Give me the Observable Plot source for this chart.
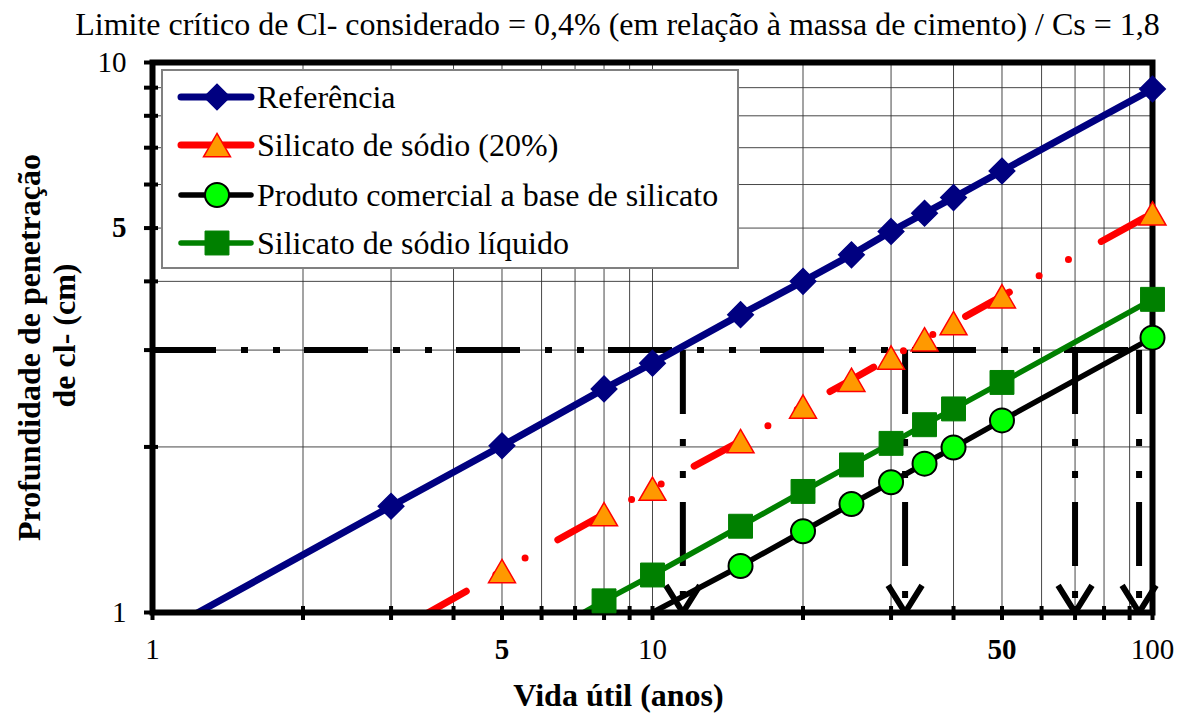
<!DOCTYPE html>
<html><head><meta charset="utf-8">
<script src="https://cdn.jsdelivr.net/npm/d3@7"></script>
<script src="https://cdn.jsdelivr.net/npm/@observablehq/plot@0.6"></script>
<style>
body{margin:0;background:#fff;}
#wrap{position:relative;width:1177px;height:715px;font-family:"Liberation Serif","Times New Roman",serif;}
#legend{position:absolute;left:161px;top:69px;width:574px;height:196px;border:2px solid #808080;background:#fff;}
.row{position:absolute;left:0;height:48px;width:570px;}
.row svg{position:absolute;left:12px;top:0;}
.row span{position:absolute;left:94px;top:0;line-height:48px;font-size:32px;color:#000;white-space:nowrap;}
</style></head><body><div id="wrap"></div>
<script>
// ---- data ----
const refX  = [1, 3, 5, 8, 10, 15, 20, 25, 30, 35, 40, 50, 100];
const refY  = [0.9, 1.56, 2.01, 2.55, 2.84, 3.48, 4.0, 4.47, 4.93, 5.32, 5.68, 6.35, 8.95];
const sil20X = [3.5, 5, 8, 10, 15, 20, 25, 30, 35, 40, 50, 100];
const sil20Y = [0.99, 1.19, 1.51, 1.68, 2.05, 2.37, 2.65, 2.91, 3.14, 3.36, 3.76, 5.32];
const comX  = [10, 15, 20, 25, 30, 35, 40, 50, 100];
const comY  = [1.0, 1.215, 1.405, 1.575, 1.725, 1.865, 1.995, 2.235, 3.16];
const liqX  = [7, 8, 10, 15, 20, 25, 30, 35, 40, 50, 100];
const liqY  = [0.98, 1.05, 1.17, 1.435, 1.66, 1.855, 2.03, 2.195, 2.345, 2.62, 3.71];
const limitY = 3;
const arrowX = [11.5, 32, 70, 94];
const seriesNames = ["Referência", "Silicato de sódio (20%)", "Produto comercial a base de silicato", "Silicato de sódio líquido"];
const xTickLabels = [1, 5, 10, 50, 100];
const xTickBold   = [false, true, false, true, false];
const yTickLabels = [1, 5, 10];
const yTickBold   = [false, true, false];
const minorX = [1,2,3,4,5,6,7,8,9,10,20,30,40,50,60,70,80,90,100];
const minorY = [1,2,3,4,5,6,7,8,9,10];
const title = "Limite crítico de Cl- considerado = 0,4% (em relação à massa de cimento) / Cs = 1,8";
const xLabel = "Vida útil (anos)";
const yLabel1 = "Profundidade de penetração";
const yLabel2 = "de cl- (cm)";

// ---- styles ----
const FONT = '"Liberation Serif","Times New Roman",serif';
const styles = [
  {line:"#000080", lw:7, symbol:"diamond2", r:11.5, fill:"#000080", mstroke:"#000080", msw:1.5, dy:0},
  {line:"#FF0000", lw:7, symbol:"triangle", r:10, fill:"#FF9900", mstroke:"#FF0000", msw:1.5, dy:4, dash:"50,34,0,33.5,0,37.5", dashOffset:2},
  {line:"#000000", lw:5.5, symbol:"circle", r:12, fill:"#00FF00", mstroke:"#000000", msw:2, dy:0},
  {line:"#008000", lw:5.5, symbol:"square", r:13.5, fill:"#008000", mstroke:"#008000", msw:1, dy:0}
];
const xs = [refX, sil20X, comX, liqX], ys = [refY, sil20Y, comY, liqY];
const series = xs.map((X, s) => X.map((x, i) => ({x, y: ys[s][i], s})));

const lineMarks = series.map((d, s) => Plot.line(d, {
  x: "x", y: "y", stroke: styles[s].line, strokeWidth: styles[s].lw,
  strokeLinecap: "round", strokeLinejoin: "round", clip: true,
  strokeDasharray: styles[s].dash, strokeDashoffset: styles[s].dashOffset
}));
const dotMarks = series.map((d, s) => Plot.dot(d.filter(p => p.y > 1), {
  x: "x", y: "y", symbol: styles[s].symbol, r: styles[s].r, fill: styles[s].fill,
  stroke: styles[s].mstroke, strokeWidth: styles[s].msw, dy: styles[s].dy
}));

const plot = Plot.plot({
  width: 1177, height: 715,
  marginLeft: 152, marginRight: 25, marginTop: 62, marginBottom: 103,
  x: {type: "log", domain: [1, 100], axis: null},
  y: {type: "log", domain: [1, 10], axis: null},
  style: {fontFamily: FONT, background: "white", color: "black", overflow: "visible"},
  marks: [
    Plot.gridX(minorX, {stroke: "#333", strokeOpacity: 0.9, strokeWidth: 1}),
    Plot.gridY(minorY, {stroke: "#333", strokeOpacity: 0.9, strokeWidth: 1}),
    Plot.ruleY([limitY], {x1: 1, x2: 100, stroke: "black", strokeWidth: 6, strokeDasharray: "64,25,7,25,7,24"}),
    Plot.arrow(arrowX, {x1: d => d, x2: d => d, y1: limitY, y2: 1, stroke: "black", strokeWidth: 6,
      strokeDasharray: "64,25,7,25,7,24", strokeLinecap: "butt", strokeLinejoin: "miter", strokeMiterlimit: 1,
      headLength: 8, headAngle: 64}),
    ...lineMarks,
    Plot.frame({stroke: "black", strokeWidth: 6}),
    Plot.ruleX(minorX, {x: d => d, insetTop: 544, insetBottom: -8, stroke: "black", strokeWidth: 4}),
    Plot.ruleY(minorY, {y: d => d, insetRight: 994, insetLeft: -8, stroke: "black", strokeWidth: 4}),
    ...dotMarks,
    Plot.text(xTickLabels.filter((d, i) => !xTickBold[i]), {x: d => d, y: 1, dy: 37, fontSize: 29, text: d => String(d)}),
    Plot.text(xTickLabels.filter((d, i) => xTickBold[i]), {x: d => d, y: 1, dy: 37, fontSize: 29, fontWeight: "bold", text: d => String(d)}),
    Plot.text(yTickLabels.filter((d, i) => !yTickBold[i]), {x: 1, y: d => d, dx: -26, textAnchor: "end", fontSize: 29, text: d => String(d)}),
    Plot.text(yTickLabels.filter((d, i) => yTickBold[i]), {x: 1, y: d => d, dx: -26, textAnchor: "end", fontSize: 29, fontWeight: "bold", text: d => String(d)}),
    Plot.text([title], {frameAnchor: "top", textAnchor: "middle", dx: -35, dy: -50, fontSize: 32, text: d => d}),
    Plot.text([xLabel], {frameAnchor: "bottom", textAnchor: "middle", dx: -34, dy: 93, fontSize: 32, fontWeight: "bold", text: d => d}),
    Plot.text([yLabel1], {frameAnchor: "left", textAnchor: "middle", dx: -123, dy: 10, rotate: -90, fontSize: 32, fontWeight: "bold", text: d => d}),
    Plot.text([yLabel2], {frameAnchor: "left", textAnchor: "middle", dx: -88, dy: -2, rotate: -90, fontSize: 32, fontWeight: "bold", text: d => d})
  ]
});

const wrap = document.getElementById("wrap");
wrap.appendChild(plot);

// ---- legend (HTML overlay inside plot area) ----
const legend = document.createElement("div");
legend.id = "legend";
const symTypes = {diamond2: d3.symbolDiamond2, triangle: d3.symbolTriangle, circle: d3.symbolCircle, square: d3.symbolSquare};
const rowCenters = [26, 74, 124, 172];
seriesNames.forEach((name, s) => {
  const st = styles[s];
  const row = document.createElement("div");
  row.className = "row";
  row.style.top = (rowCenters[s] - 24) + "px";
  const path = d3.symbol(symTypes[st.symbol], Math.PI * st.r * st.r)();
  row.innerHTML = `<svg width="82" height="48" viewBox="0 0 82 48">
    <line x1="6" y1="24" x2="76" y2="24" stroke="${st.line}" stroke-width="${st.lw}" stroke-linecap="round"/>
    <path d="${path}" transform="translate(42,${24 + st.dy})" fill="${st.fill}" stroke="${st.mstroke}" stroke-width="${st.msw}"/>
  </svg><span>${name}</span>`;
  legend.appendChild(row);
});
wrap.appendChild(legend);
</script></body></html>
